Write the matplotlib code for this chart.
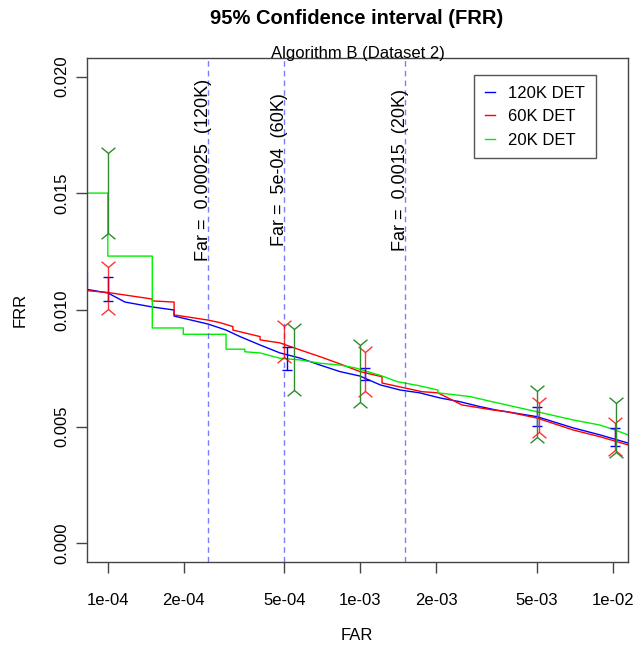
"""
95% confidence interval plot for FRR (DET curves)
"""
import numpy as np
import matplotlib
matplotlib.use('Agg')
import matplotlib.pyplot as plt
from matplotlib.path import Path

plt.rcParams['font.family'] = ['Liberation Sans', 'DejaVu Sans']

# DET curves (FAR, FRR)
far_120k = [8.3e-5, 8.3e-5, 1.0e-4, 1.17e-4, 1.5e-4, 1.83e-4, 1.83e-4, 2.49e-4, 2.78e-4, 2.94e-4,
            3.34e-4, 4.01e-4, 4.81e-4, 5.77e-4, 6.93e-4, 8.31e-4, 9.97e-4, 1.2e-3, 1.44e-3, 1.72e-3,
            2.07e-3, 2.48e-3, 2.98e-3, 3.33e-3, 3.42e-3, 5.01e-3, 6.96e-3, 8.9e-3, 1.149e-2]
frr_120k = [0.01158, 0.01088, 0.01073, 0.01034, 0.01013, 0.01000, 0.00974, 0.00940, 0.00923, 0.00914,
            0.00886, 0.00850, 0.00816, 0.00794, 0.00764, 0.00736, 0.00717, 0.00679, 0.00657, 0.00645,
            0.00623, 0.00607, 0.00586, 0.00575, 0.00572, 0.00543, 0.00495, 0.00465, 0.00430]

far_60k = [8.27e-5, 1.0e-4, 1.5e-4, 1.5e-4, 1.83e-4, 1.83e-4, 2.49e-4, 2.78e-4, 3.13e-4, 3.13e-4,
           4.01e-4, 4.01e-4, 4.81e-4, 5.77e-4, 6.93e-4, 8.31e-4, 9.97e-4, 1.22e-3, 1.22e-3, 1.755e-3,
           2.03e-3, 2.53e-3, 3.33e-3, 3.81e-3, 5.01e-3, 6.96e-3, 8.9e-3, 1.149e-2]
frr_60k = [0.01083, 0.01075, 0.01047, 0.01039, 0.01034, 0.00979, 0.00957, 0.00946, 0.00929, 0.00914,
           0.00886, 0.00872, 0.00859, 0.00829, 0.00800, 0.00769, 0.00736, 0.00714, 0.00687, 0.00650,
           0.00645, 0.00593, 0.00572, 0.00564, 0.00537, 0.00486, 0.00457, 0.00422]

far_20k = [8.27e-5, 1.0e-4, 1.0e-4, 1.5e-4, 1.5e-4, 1.99e-4, 1.99e-4, 2.94e-4, 2.94e-4, 3.49e-4,
           3.49e-4, 4.01e-4, 4.81e-4, 5.77e-4, 6.93e-4, 8.31e-4, 9.53e-4, 1.2e-3, 1.4e-3, 1.72e-3,
           2.03e-3, 2.03e-3, 2.72e-3, 3.33e-3, 5.01e-3, 6.96e-3, 8.9e-3, 1.02e-2, 1.149e-2]
frr_20k = [0.01501, 0.01501, 0.01231, 0.01231, 0.00923, 0.00923, 0.00896, 0.00896, 0.00832, 0.00832,
           0.00821, 0.00816, 0.00793, 0.00786, 0.00772, 0.00764, 0.00752, 0.00720, 0.00693, 0.00675,
           0.00657, 0.00645, 0.00629, 0.00607, 0.00564, 0.00529, 0.00507, 0.00486, 0.00465]

# confidence intervals (FAR, low, high)
ci_far_120k = [1.0e-4, 5.13e-4, 1.045e-3, 5.03e-3, 1.02e-2]
ci_lo_120k = [0.01039, 0.00743, 0.00700, 0.00503, 0.00418]
ci_hi_120k = [0.01141, 0.00842, 0.00752, 0.00586, 0.00495]

ci_far_60k = [1.0e-4, 5.0e-4, 1.04e-3, 5.1e-3, 1.02e-2]
ci_lo_60k = [0.01004, 0.00799, 0.00653, 0.00479, 0.00400]
ci_hi_60k = [0.01184, 0.00931, 0.00820, 0.00602, 0.00516]

ci_far_20k = [1.0e-4, 5.45e-4, 1.0e-3, 5.01e-3, 1.03e-2]
ci_lo_20k = [0.01330, 0.00657, 0.00606, 0.00457, 0.00393]
ci_hi_20k = [0.01674, 0.00919, 0.00850, 0.00654, 0.00600]

# operating points
op_far = [0.00025, 5e-04, 0.0015]
op_text = ['Far =  0.00025  (120K)', 'Far =  5e-04  (60K)', 'Far =  0.0015  (20K)']

x_ticks = [1e-4, 2e-4, 5e-4, 1e-3, 2e-3, 5e-3, 1e-2]
x_ticklabels = ['1e-04', '2e-04', '5e-04', '1e-03', '2e-03', '5e-03', '1e-02']
y_ticks = [0.0, 0.005, 0.010, 0.015, 0.020]
y_ticklabels = ['0.000', '0.005', '0.010', '0.015', '0.020']

# arrow heads for the error bars (open, not filled)
head_up = Path([(-1.2, 1), (0, 0), (1.2, 1)], [Path.MOVETO, Path.LINETO, Path.LINETO])
head_down = Path([(-1.2, -1), (0, 0), (1.2, -1)], [Path.MOVETO, Path.LINETO, Path.LINETO])

fig = plt.figure(figsize=(6.33, 6.49), dpi=100)
ax = fig.add_axes([87 / 633, 87 / 649, 541 / 633, 504 / 649])
ax.set_xscale('log')

ax.plot(far_120k, frr_120k, color='blue', lw=1.0, label='120K DET')
ax.plot(far_60k, frr_60k, color='red', lw=1.0, label='60K DET')
ax.plot(far_20k, frr_20k, color='#00ee00', lw=1.0, label='20K DET')

for xv in op_far:
    ax.axvline(xv, color='#4444ff', lw=1.0, alpha=0.7, dashes=(4, 3))
for xv, txt in zip(op_far, op_text):
    ax.text(xv, 0.016, txt, rotation=90, rotation_mode='anchor', ha='center', va='baseline',
            fontsize=13, color='black')

# error bars
ax.vlines(ci_far_120k, ci_lo_120k, ci_hi_120k, color='blue', lw=1.0)
ax.plot(ci_far_120k, ci_lo_120k, ls='none', marker='_', ms=7, mew=1.0, color='blue')
ax.plot(ci_far_120k, ci_hi_120k, ls='none', marker='_', ms=7, mew=1.0, color='blue')

ax.vlines(ci_far_60k, ci_lo_60k, ci_hi_60k, color='red', lw=1.0, alpha=0.8)
ax.plot(ci_far_60k, ci_lo_60k, ls='none', marker=head_down, ms=10, mew=1.0, mfc='none',
        color='red', alpha=0.8)
ax.plot(ci_far_60k, ci_hi_60k, ls='none', marker=head_up, ms=10, mew=1.0, mfc='none',
        color='red', alpha=0.8)

ax.vlines(ci_far_20k, ci_lo_20k, ci_hi_20k, color='#2e8b2e', lw=1.0)
ax.plot(ci_far_20k, ci_lo_20k, ls='none', marker=head_down, ms=10, mew=1.0, mfc='none',
        color='#2e8b2e')
ax.plot(ci_far_20k, ci_hi_20k, ls='none', marker=head_up, ms=10, mew=1.0, mfc='none',
        color='#2e8b2e')

ax.set_xlim(8.27e-5, 1.15e-2)
ax.set_ylim(-0.0008, 0.0208)
ax.set_xticks(x_ticks)
ax.set_xticklabels(x_ticklabels)
ax.minorticks_off()
ax.set_yticks(y_ticks)
ax.set_yticklabels(y_ticklabels, rotation=90, va='center')
ax.tick_params(axis='both', length=8, width=1.0, color='#444444', labelsize=12)
ax.tick_params(axis='x', pad=14)
ax.tick_params(axis='y', pad=5)
for s in ax.spines.values():
    s.set_color('#444444')
    s.set_linewidth(1.0)

leg = ax.legend(loc='upper right', bbox_to_anchor=(509 / 541, 487 / 504), borderaxespad=0,
                fontsize=12, handlelength=0.6, handletextpad=0.8, borderpad=0.65, labelspacing=0.5,
                fancybox=False, framealpha=1, edgecolor='#555555')
leg.get_frame().set_linewidth(1.0)

ax.text(0.5, 1.0, 'Algorithm B (Dataset 2)', transform=ax.transAxes, ha='center', va='baseline',
        fontsize=12)
fig.text(357 / 633, 1 - 19 / 649, '95% Confidence interval (FRR)', ha='center', va='center',
         fontsize=14.5, fontweight='bold')
fig.text(357 / 633, 1 - 636 / 649, 'FAR', ha='center', va='center', fontsize=12)
fig.text(20 / 633, 1 - 310 / 649, 'FRR', ha='center', va='center', fontsize=12, rotation=90)

plt.savefig('out.png', dpi=100)
